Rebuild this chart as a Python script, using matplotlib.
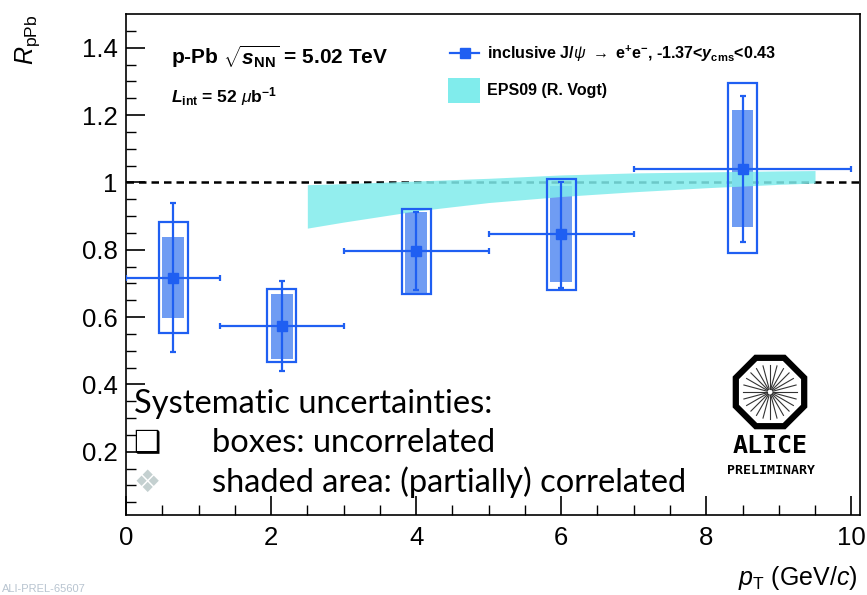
import numpy as np
import matplotlib
matplotlib.use("Agg")
import matplotlib.pyplot as plt
from matplotlib.patches import Rectangle, RegularPolygon
from matplotlib.lines import Line2D

# ==============================================================================
# DATA
# ==============================================================================
pt      = [0.65, 2.15, 4.0, 6.0, 8.5]
pt_lo   = [0.0, 1.3, 3.0, 5.0, 7.0]
pt_hi   = [1.3, 3.0, 5.0, 7.0, 10.0]
rpPb    = [0.717, 0.574, 0.796, 0.848, 1.040]
stat_hi = [0.940, 0.707, 0.913, 1.002, 1.255]
stat_lo = [0.495, 0.440, 0.680, 0.685, 0.824]
unc_hi  = [0.883, 0.683, 0.920, 1.010, 1.295]   # open boxes
unc_lo  = [0.553, 0.466, 0.669, 0.680, 0.790]
cor_hi  = [0.837, 0.669, 0.913, 0.990, 1.215]   # filled boxes
cor_lo  = [0.596, 0.475, 0.664, 0.705, 0.866]

eps_pt = [2.5, 3.0, 4.0, 5.0, 6.0, 7.0, 8.0, 9.0, 9.5]
eps_hi = [0.993, 0.996, 1.004, 1.012, 1.022, 1.028, 1.031, 1.034, 1.035]
eps_lo = [0.864, 0.882, 0.915, 0.940, 0.958, 0.972, 0.984, 0.994, 0.998]

x_ticks = [0, 2, 4, 6, 8, 10]
y_ticks = [0.2, 0.4, 0.6, 0.8, 1.0, 1.2, 1.4]
y_ticklabels = ["0.2", "0.4", "0.6", "0.8", "1", "1.2", "1.4"]

# ==============================================================================
# STYLE
# ==============================================================================
W, H = 867, 595
BLUE   = "#1f5ff2"
BLUE_F = "#6f9cf3"
CYAN   = "#80ecec"
HELV   = ["Liberation Sans", "DejaVu Sans"]
CALI   = ["Lato", "DejaVu Sans"]

# mathtext: \mathbf -> bold italic, \mathsf -> bold upright (ROOT-like labels)
plt.rcParams["mathtext.fontset"] = "custom"
plt.rcParams["mathtext.rm"] = "Liberation Sans"
plt.rcParams["mathtext.it"] = "Liberation Sans:italic"
plt.rcParams["mathtext.bf"] = "Liberation Sans:bold:italic"
plt.rcParams["mathtext.sf"] = "Liberation Sans:bold"

def fx(px): return px / W
def fy(py): return 1 - py / H

fig = plt.figure(figsize=(W / 100, H / 100), dpi=100)
ax = fig.add_axes([fx(126), fy(515), fx(860) - fx(126), fy(14) - fy(515)])
ax.set_xlim(0, 10.12)
ax.set_ylim(0.012, 1.5)

# reference line
ax.axhline(1.0, color="black", lw=1.8, ls=(0, (3, 2.0)), zorder=1)

# filled (correlated) boxes
for i in range(len(pt)):
    ax.add_patch(Rectangle((pt[i] - 0.15, cor_lo[i]), 0.30, cor_hi[i] - cor_lo[i],
                           facecolor=BLUE_F, edgecolor="none", zorder=2))

# EPS09 band
ax.fill_between(eps_pt, eps_lo, eps_hi, color=CYAN, alpha=0.85, lw=0, zorder=3)

# open (uncorrelated) boxes
for i in range(len(pt)):
    ax.add_patch(Rectangle((pt[i] - 0.2, unc_lo[i]), 0.40, unc_hi[i] - unc_lo[i],
                           facecolor="none", edgecolor=BLUE, lw=1.6, zorder=4))

# points with stat errors and bin widths
xerr = [np.subtract(pt, pt_lo), np.subtract(pt_hi, pt)]
yerr = [np.subtract(rpPb, stat_lo), np.subtract(stat_hi, rpPb)]
ax.errorbar(pt, rpPb, xerr=xerr, yerr=yerr, fmt="s", color=BLUE, ms=7,
            lw=1.6, capsize=2.5, capthick=1.6, zorder=5)

# axes styling (ROOT-like)
for s in ax.spines.values():
    s.set_linewidth(1.2)
ax.set_xticks(x_ticks)
ax.set_xticklabels([str(v) for v in x_ticks], family=HELV, fontsize=18.5)
ax.set_yticks(y_ticks)
ax.set_yticklabels(y_ticklabels, family=HELV, fontsize=18.5)
ax.set_xticks(np.arange(0, 10.01, 0.5), minor=True)
ax.set_yticks(np.arange(0.05, 1.5, 0.05), minor=True)
ax.tick_params(which="major", direction="in", length=14, width=1.2, pad=8)
ax.tick_params(which="minor", direction="in", length=7, width=1.0)
ax.tick_params(axis="y", which="major", pad=6)

fig.text(fx(858), fy(578), r"$p_{\rm T}$ (GeV/$c$)", family=HELV, fontsize=18,
         ha="right", va="center")
fig.text(fx(28), fy(40), r"$R_{\rm pPb}$", family=HELV, fontsize=18,
         rotation=90, ha="center", va="center")

# header texts
fig.text(fx(171), fy(57), r"p-Pb $\sqrt{\mathbf{s}_{\mathsf{NN}}}$ = 5.02 TeV",
         family=HELV, fontsize=15, weight="bold", ha="left", va="center")
fig.text(fx(171), fy(97), r"$\mathbf{L}_{\mathsf{int}}$ = 52 $\mu$b$^{\mathsf{-1}}$",
         family=HELV, fontsize=12.5, weight="bold", ha="left", va="center")

# legend
fig.add_artist(Line2D([fx(450), fx(479)], [fy(53), fy(53)], color=BLUE, lw=1.6))
fig.add_artist(Line2D([fx(464.5)], [fy(53)], marker="s", ms=7, color=BLUE))
fig.text(fx(487), fy(54),
         r"inclusive J/$\psi$ $\rightarrow$ e$^{\mathsf{+}}$e$^{\mathsf{-}}$, -1.37<$\mathbf{y}_{\mathsf{cms}}$<0.43",
         family=HELV, fontsize=11.5, weight="bold", ha="left", va="center")
fig.add_artist(Rectangle((fx(448), fy(103)), fx(32), fy(78) - fy(103),
                         facecolor=CYAN, edgecolor="none", transform=fig.transFigure))
fig.text(fx(487), fy(91), "EPS09 (R. Vogt)", family=HELV, fontsize=11.5,
         weight="bold", ha="left", va="center")

# systematic uncertainty note
fig.text(fx(134), fy(413), "Systematic uncertainties:", family=CALI, fontsize=23.5,
         ha="left", va="baseline")
fig.text(fx(133), fy(452), "\u2751", family=["DejaVu Sans"], fontsize=22,
         ha="left", va="baseline")
fig.text(fx(212), fy(452), "boxes: uncorrelated", family=CALI, fontsize=23.5,
         ha="left", va="baseline")
fig.text(fx(133), fy(492), "\u2756", family=["DejaVu Sans"], fontsize=22,
         color="#c4d0d0", ha="left", va="baseline")
fig.text(fx(212), fy(492), "shaded area: (partially) correlated", family=CALI,
         fontsize=23.5, ha="left", va="baseline")

# ALICE logo
lax = fig.add_axes([fx(720), fy(442), fx(100), fy(0) - fy(100)])
lax.set_xlim(-50, 50)
lax.set_ylim(-50, 50)
lax.set_aspect("equal")
lax.axis("off")
lax.add_patch(RegularPolygon((0, 0), 8, radius=37, orientation=np.pi / 8,
                             facecolor="white", edgecolor="black", lw=4.5))
for a in np.linspace(0, 2 * np.pi, 24, endpoint=False):
    lax.plot([3 * np.cos(a), 27 * np.cos(a)], [3 * np.sin(a), 27 * np.sin(a)],
             color="#333333", lw=0.8)
fig.text(fx(770), fy(446), "ALICE", family=["DejaVu Sans Mono"], fontsize=18,
         weight="bold", ha="center", va="center")
fig.text(fx(771), fy(470), "PRELIMINARY", family=["DejaVu Sans Mono"], fontsize=9.5,
         weight="bold", ha="center", va="center")

fig.text(fx(2), fy(594), "ALI-PREL-65607", family=HELV, fontsize=8,
         color="#b8c4d0", ha="left", va="bottom")

fig.savefig("out.png", dpi=100)
